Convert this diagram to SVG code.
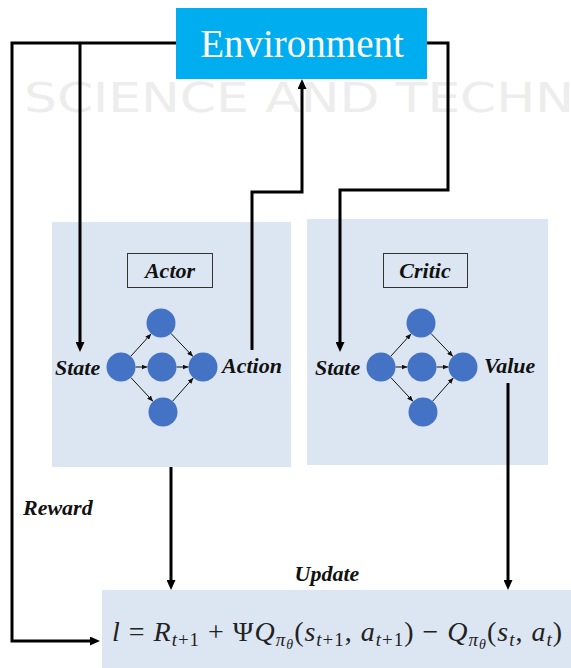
<svg xmlns="http://www.w3.org/2000/svg" width="571" height="668" viewBox="0 0 571 668">
  <defs>
    <style>
      .bg { fill: #ffffff; }
      .mark { font-family: "DejaVu Sans", "Liberation Sans", sans-serif; font-size: 40px; fill: #ededed; }
      .panel { fill: #dce6f2; }
      .tag { fill: none; stroke: #333333; stroke-width: 1; }
      .lbl { font-family: "Liberation Serif", "Times New Roman", serif; font-weight: bold; font-style: italic; font-size: 22px; fill: #111111; }
      .env { font-family: "Liberation Serif", "Times New Roman", serif; font-size: 39px; fill: #ffffff; }
      .wire { fill: none; stroke: #000000; stroke-width: 3; }
      .edge { fill: none; stroke: #111111; stroke-width: 1; }
      .unit { fill: #4472c4; }
      .math { font-family: "Liberation Serif", "Times New Roman", serif; font-size: 28px; fill: #222222; }
      .it { font-style: italic; }
    </style>
    <marker id="head" markerUnits="userSpaceOnUse" markerWidth="10" markerHeight="9" refX="3" refY="4.5" orient="auto">
      <path d="M0,0 L10,4.5 L0,9 z" fill="#000000"/>
    </marker>
    <marker id="tiny" markerUnits="userSpaceOnUse" markerWidth="6" markerHeight="5" refX="6" refY="2.5" orient="auto">
      <path d="M0,0 L6,2.5 L0,5 z" fill="#111111"/>
    </marker>
    <g id="net">
      <g class="edges">
        <line class="edge" x1="130.75" y1="356.27" x2="151.25" y2="333.73" marker-end="url(#tiny)"/>
        <line class="edge" x1="135.5" y1="367" x2="147.5" y2="367" marker-end="url(#tiny)"/>
        <line class="edge" x1="130.9" y1="377.6" x2="153.1" y2="401.4" marker-end="url(#tiny)"/>
        <line class="edge" x1="171.0" y1="333.5" x2="193.0" y2="356.5" marker-end="url(#tiny)"/>
        <line class="edge" x1="176.5" y1="367" x2="188.5" y2="367" marker-end="url(#tiny)"/>
        <line class="edge" x1="172.6" y1="401.2" x2="193.4" y2="377.8" marker-end="url(#tiny)"/>
      </g>
      <circle class="unit" cx="121" cy="367" r="14.5"/>
      <circle class="unit" cx="161" cy="323" r="14.5"/>
      <circle class="unit" cx="162" cy="367" r="14.5"/>
      <circle class="unit" cx="163" cy="412" r="14.5"/>
      <circle class="unit" cx="203" cy="367" r="14.5"/>
    </g>
  </defs>

  <rect class="bg" x="0" y="0" width="571" height="668"/>

  <!-- faint publisher watermark behind the figure -->
  <text class="mark" x="24" y="112" textLength="550" lengthAdjust="spacingAndGlyphs">SCIENCE AND TECHN</text>

  <g id="environment">
    <rect x="176" y="8" width="251" height="71" fill="#00aeef"/>
    <text class="env" x="302" y="57" text-anchor="middle">Environment</text>
  </g>

  <g id="actor">
    <rect class="panel" x="52" y="222" width="239" height="245"/>
    <rect class="tag" x="127.5" y="253.5" width="85" height="34"/>
    <text class="lbl" x="170" y="278" text-anchor="middle">Actor</text>
    <use href="#net"/>
    <text class="lbl" x="55" y="375">State</text>
    <text class="lbl" x="222" y="373">Action</text>
  </g>

  <g id="critic">
    <rect class="panel" x="307" y="219" width="241" height="246"/>
    <rect class="tag" x="383.5" y="253.5" width="84" height="34"/>
    <text class="lbl" x="425" y="278" text-anchor="middle">Critic</text>
    <use href="#net" transform="translate(260 0)"/>
    <text class="lbl" x="315" y="375">State</text>
    <text class="lbl" x="484" y="373">Value</text>
  </g>

  <g id="update">
    <rect class="panel" x="102" y="590" width="469" height="78"/>
    <text class="lbl" x="327" y="581" text-anchor="middle">Update</text>
    <text class="math" x="112" y="641" textLength="450" lengthAdjust="spacing"><tspan class="it">l</tspan> = <tspan class="it">R</tspan><tspan font-size="19" dy="5"><tspan class="it">t</tspan>+1</tspan><tspan dy="-5"> + Ψ</tspan><tspan class="it">Q</tspan><tspan class="it" font-size="19" dy="5">π</tspan><tspan class="it" font-size="14" dy="3">θ</tspan><tspan dy="-8">(</tspan><tspan class="it">s</tspan><tspan font-size="19" dy="5"><tspan class="it">t</tspan>+1</tspan><tspan dy="-5">, </tspan><tspan class="it">a</tspan><tspan font-size="19" dy="5"><tspan class="it">t</tspan>+1</tspan><tspan dy="-5">) − </tspan><tspan class="it">Q</tspan><tspan class="it" font-size="19" dy="5">π</tspan><tspan class="it" font-size="14" dy="3">θ</tspan><tspan dy="-8">(</tspan><tspan class="it">s</tspan><tspan class="it" font-size="19" dy="5">t</tspan><tspan dy="-5">, </tspan><tspan class="it">a</tspan><tspan class="it" font-size="19" dy="5">t</tspan><tspan dy="-5">)</tspan></text>
  </g>

  <g id="connectors">
    <!-- reward loop from environment to the update step -->
    <polyline class="wire" points="176,43 12,43 12,641 93,641" marker-end="url(#head)"/>
    <text class="lbl" x="23" y="515">Reward</text>
    <!-- state to actor -->
    <polyline class="wire" points="80,43 80,345" marker-end="url(#head)"/>
    <!-- state to critic -->
    <polyline class="wire" points="427,43 448,43 448,190 340,190 340,345" marker-end="url(#head)"/>
    <!-- action back to environment -->
    <polyline class="wire" points="252,350 252,192 302,192 302,86" marker-end="url(#head)"/>
    <!-- actor and critic feed the update -->
    <polyline class="wire" points="171,467 171,583" marker-end="url(#head)"/>
    <polyline class="wire" points="508,383 508,583" marker-end="url(#head)"/>
  </g>
</svg>
